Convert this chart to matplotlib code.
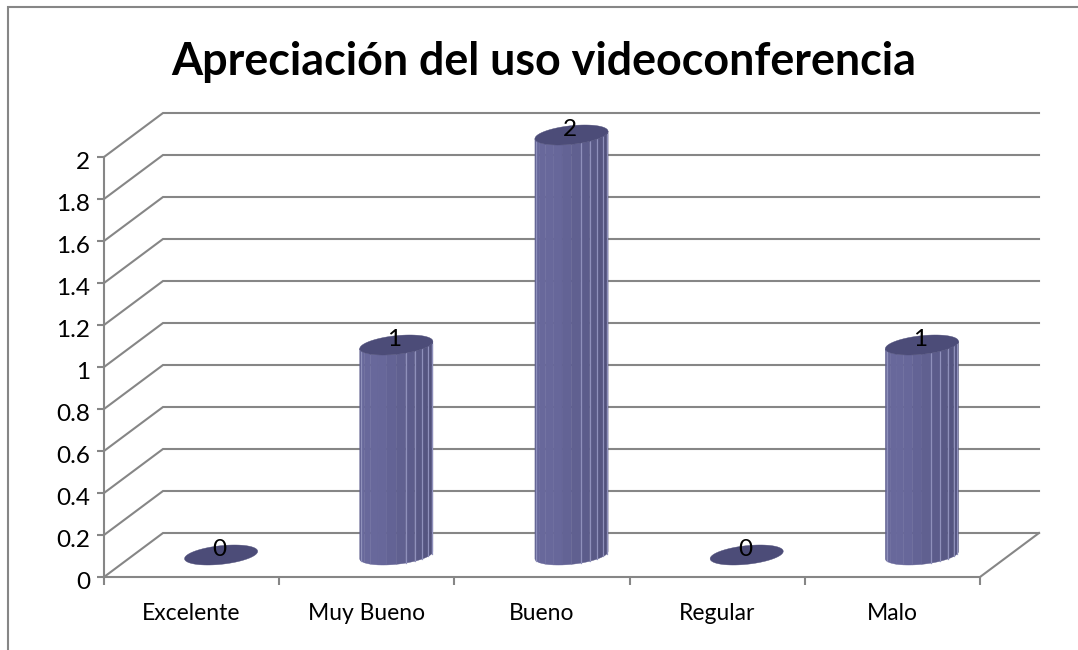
import numpy as np
import matplotlib
matplotlib.use('Agg')
import matplotlib.pyplot as plt
from matplotlib.lines import Line2D
from matplotlib.patches import Polygon
from matplotlib.transforms import ScaledTranslation

categories = ['Excelente', 'Muy Bueno', 'Bueno', 'Regular', 'Malo']
values = [0, 1, 2, 0, 1]
y_ticks = [0, 0.2, 0.4, 0.6, 0.8, 1, 1.2, 1.4, 1.6, 1.8, 2]
y_tick_labels = ['0', '0.2', '0.4', '0.6', '0.8', '1', '1.2', '1.4', '1.6', '1.8', '2']
title = 'Apreciación del uso videoconferencia'

W, H = 1078, 650
GRAY = '#868686'
plt.rcParams['font.family'] = ['Lato', 'DejaVu Sans']

fig = plt.figure(figsize=(W / 100, H / 100), dpi=100)
# front plane of the fake 3d box, in pixels
left, right, top, bottom = 104, 980, 157, 577
ax = fig.add_axes([left / W, 1 - bottom / H, (right - left) / W, (bottom - top) / H])
ax.set_xlim(-0.5, 4.5)
ax.set_ylim(0, 2)
ax.patch.set_alpha(0)

# depth of the box in data units (59px across, 44px up)
depth_x = 59 / ((right - left) / 5)
depth_y = 44 / ((bottom - top) / 2)

for s in ['top', 'right']:
    ax.spines[s].set_visible(False)
for s in ['left', 'bottom']:
    ax.spines[s].set_color(GRAY)
    ax.spines[s].set_linewidth(1.5)

ax.set_yticks(y_ticks)
ax.set_yticklabels(y_tick_labels, fontsize=17.5)
ax.tick_params(axis='y', length=5, width=1.5, color=GRAY, pad=5)
# digits sit a bit low in the reference
for lab in ax.get_yticklabels():
    lab.set_transform(lab.get_transform() + ScaledTranslation(0, -2.5 / 72, fig.dpi_scale_trans))
ax.set_xticks(np.arange(-0.5, 5, 1))
ax.set_xticklabels([])
ax.tick_params(axis='x', which='major', length=6, width=1.5, color=GRAY)
ax.set_xticks(range(5), minor=True)
ax.set_xticklabels(categories, minor=True, fontsize=16.5)
ax.tick_params(axis='x', which='minor', length=0, pad=19)

# back wall grid and the slanted lines on the side wall
for y in y_ticks:
    ax.plot([-0.5, -0.5 + depth_x, 4.5 + depth_x], [y, y + depth_y, y + depth_y],
            color=GRAY, lw=1.5, clip_on=False, zorder=1, solid_joinstyle='miter')
ax.plot([4.5, 4.5 + depth_x], [0, depth_y], color=GRAY, lw=1.5, clip_on=False, zorder=1)

# cylinders
rx = 34 / ((right - left) / 5)
skew = 0.455
t0 = np.arctan2(skew * depth_x / 2, rx)
n_facets = 12
line_facets = [1, 7, 8, 9, 10, 11]


def shade(frac):
    # light on the left-centre, darker to the right
    c1 = np.array([0x68, 0x68, 0x9b])
    c2 = np.array([0x4c, 0x4c, 0x75])
    f = np.clip((frac - 0.35) / 0.65, 0, 1)
    if frac < 0.1:
        f = 0.3
    return (c1 + (c2 - c1) * f) / 255


def rim(cat, val, t):
    return (cat + depth_x / 2 + rx * np.cos(t) + skew * depth_x / 2 * np.sin(t),
            val + depth_y / 2 + skew * depth_y / 2 * np.sin(t))


for i, v in enumerate(values):
    if v > 0:
        for k in range(n_facets):
            t = np.linspace(t0 + np.pi + np.pi * k / n_facets,
                            t0 + np.pi + np.pi * (k + 1) / n_facets, 6)
            x, y = rim(i, 0, t)
            xs = np.concatenate([x, x[::-1]])
            ys = np.concatenate([y, y[::-1] + v])
            col = shade((k + 0.5) / n_facets)
            ax.add_patch(Polygon(np.column_stack([xs, ys]), closed=True, fc=col, ec=col,
                                 lw=0.3, clip_on=False, zorder=2))
            if k in line_facets:
                ax.plot([x[0], x[0]], [y[0], y[0] + v], color='#8f90bb', lw=0.9,
                        clip_on=False, zorder=3)
    t = np.linspace(0, 2 * np.pi, 80)
    x, y = rim(i, v, t)
    ax.add_patch(Polygon(np.column_stack([x, y]), closed=True, fc='#4c4c78', ec='#4c4c78',
                         lw=0.3, clip_on=False, zorder=4))
    ax.text(i + depth_x / 2 - 0.01, v + depth_y / 2 + 0.025, str(v), ha='center', va='center',
            fontsize=17.5, color='black', zorder=5, clip_on=False)

# chart frame, open on the right and the bottom
fig.add_artist(Line2D([8 / W, 8 / W, 1], [0, 1 - 7 / H, 1 - 7 / H], color=GRAY, lw=1.5,
                      solid_joinstyle='miter'))
fig.text(544 / W, 1 - 62 / H, title, ha='center', va='center', fontsize=32.3, fontweight='bold')

fig.savefig('out.png', dpi=100)
